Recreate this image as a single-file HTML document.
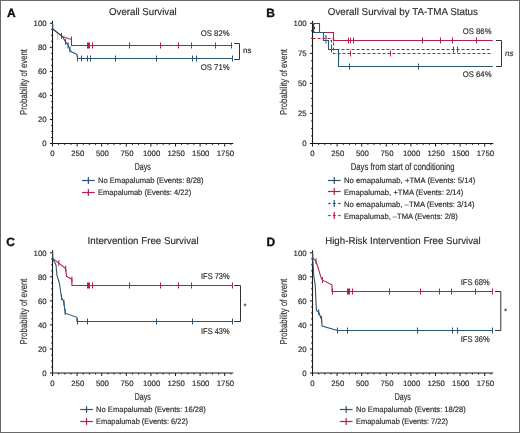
<!DOCTYPE html>
<html><head><meta charset="utf-8"><style>
html,body{margin:0;padding:0;background:#fff;}
body{width:520px;height:433px;overflow:hidden;position:relative;}
.frame{position:absolute;left:0;top:0;width:518px;height:431px;border:1px solid #6a6a6a;}
svg{position:absolute;left:0;top:0;will-change:transform;}
text{font-family:"Liberation Sans",sans-serif;fill:#2e2e2e;text-rendering:geometricPrecision;stroke:#2e2e2e;stroke-width:0.18px;stroke-linejoin:round;}
</style></head><body>
<div class="frame"></div>
<svg width="520" height="433" viewBox="0 0 520 433">
<text x="6.90" y="16.80" font-size="12" font-weight="bold" fill="#111" style="fill:#111;stroke:#111;stroke-width:0.35px">A</text>
<text x="109.10" y="15.00" font-size="10.0" textLength="67.60" lengthAdjust="spacingAndGlyphs">Overall Survival</text>
<line x1="52.50" y1="20.80" x2="52.50" y2="144.00" stroke="#1a1a1a" stroke-width="1.1"/>
<line x1="52.00" y1="143.50" x2="233.30" y2="143.50" stroke="#1a1a1a" stroke-width="1.1"/>
<line x1="49.90" y1="143.50" x2="52.50" y2="143.50" stroke="#1a1a1a" stroke-width="1"/>
<text x="46.60" y="146.30" font-size="7.8" text-anchor="end">0</text>
<line x1="51.00" y1="137.49" x2="52.50" y2="137.49" stroke="#1a1a1a" stroke-width="0.9"/>
<line x1="51.00" y1="131.48" x2="52.50" y2="131.48" stroke="#1a1a1a" stroke-width="0.9"/>
<line x1="51.00" y1="125.47" x2="52.50" y2="125.47" stroke="#1a1a1a" stroke-width="0.9"/>
<line x1="49.90" y1="119.46" x2="52.50" y2="119.46" stroke="#1a1a1a" stroke-width="1"/>
<text x="46.60" y="122.26" font-size="7.8" text-anchor="end">20</text>
<line x1="51.00" y1="113.45" x2="52.50" y2="113.45" stroke="#1a1a1a" stroke-width="0.9"/>
<line x1="51.00" y1="107.44" x2="52.50" y2="107.44" stroke="#1a1a1a" stroke-width="0.9"/>
<line x1="51.00" y1="101.43" x2="52.50" y2="101.43" stroke="#1a1a1a" stroke-width="0.9"/>
<line x1="49.90" y1="95.42" x2="52.50" y2="95.42" stroke="#1a1a1a" stroke-width="1"/>
<text x="46.60" y="98.22" font-size="7.8" text-anchor="end">40</text>
<line x1="51.00" y1="89.41" x2="52.50" y2="89.41" stroke="#1a1a1a" stroke-width="0.9"/>
<line x1="51.00" y1="83.40" x2="52.50" y2="83.40" stroke="#1a1a1a" stroke-width="0.9"/>
<line x1="51.00" y1="77.39" x2="52.50" y2="77.39" stroke="#1a1a1a" stroke-width="0.9"/>
<line x1="49.90" y1="71.38" x2="52.50" y2="71.38" stroke="#1a1a1a" stroke-width="1"/>
<text x="46.60" y="74.18" font-size="7.8" text-anchor="end">60</text>
<line x1="51.00" y1="65.37" x2="52.50" y2="65.37" stroke="#1a1a1a" stroke-width="0.9"/>
<line x1="51.00" y1="59.36" x2="52.50" y2="59.36" stroke="#1a1a1a" stroke-width="0.9"/>
<line x1="51.00" y1="53.35" x2="52.50" y2="53.35" stroke="#1a1a1a" stroke-width="0.9"/>
<line x1="49.90" y1="47.34" x2="52.50" y2="47.34" stroke="#1a1a1a" stroke-width="1"/>
<text x="46.60" y="50.14" font-size="7.8" text-anchor="end">80</text>
<line x1="51.00" y1="41.33" x2="52.50" y2="41.33" stroke="#1a1a1a" stroke-width="0.9"/>
<line x1="51.00" y1="35.32" x2="52.50" y2="35.32" stroke="#1a1a1a" stroke-width="0.9"/>
<line x1="51.00" y1="29.31" x2="52.50" y2="29.31" stroke="#1a1a1a" stroke-width="0.9"/>
<line x1="49.90" y1="23.30" x2="52.50" y2="23.30" stroke="#1a1a1a" stroke-width="1"/>
<text x="46.60" y="26.10" font-size="7.8" text-anchor="end">100</text>
<line x1="52.50" y1="143.50" x2="52.50" y2="146.50" stroke="#1a1a1a" stroke-width="1"/>
<text x="52.50" y="156.40" font-size="7.8" text-anchor="middle">0</text>
<line x1="77.10" y1="143.50" x2="77.10" y2="146.50" stroke="#1a1a1a" stroke-width="1"/>
<text x="77.80" y="156.40" font-size="7.8" text-anchor="middle">250</text>
<line x1="101.70" y1="143.50" x2="101.70" y2="146.50" stroke="#1a1a1a" stroke-width="1"/>
<text x="102.40" y="156.40" font-size="7.8" text-anchor="middle">500</text>
<line x1="126.30" y1="143.50" x2="126.30" y2="146.50" stroke="#1a1a1a" stroke-width="1"/>
<text x="127.00" y="156.40" font-size="7.8" text-anchor="middle">750</text>
<line x1="150.90" y1="143.50" x2="150.90" y2="146.50" stroke="#1a1a1a" stroke-width="1"/>
<text x="151.60" y="156.40" font-size="7.8" text-anchor="middle">1000</text>
<line x1="175.50" y1="143.50" x2="175.50" y2="146.50" stroke="#1a1a1a" stroke-width="1"/>
<text x="176.20" y="156.40" font-size="7.8" text-anchor="middle">1250</text>
<line x1="200.10" y1="143.50" x2="200.10" y2="146.50" stroke="#1a1a1a" stroke-width="1"/>
<text x="200.80" y="156.40" font-size="7.8" text-anchor="middle">1500</text>
<line x1="224.70" y1="143.50" x2="224.70" y2="146.50" stroke="#1a1a1a" stroke-width="1"/>
<text x="225.40" y="156.40" font-size="7.8" text-anchor="middle">1750</text>
<line x1="58.65" y1="143.50" x2="58.65" y2="145.10" stroke="#1a1a1a" stroke-width="0.9"/>
<line x1="64.80" y1="143.50" x2="64.80" y2="145.10" stroke="#1a1a1a" stroke-width="0.9"/>
<line x1="70.95" y1="143.50" x2="70.95" y2="145.10" stroke="#1a1a1a" stroke-width="0.9"/>
<line x1="83.25" y1="143.50" x2="83.25" y2="145.10" stroke="#1a1a1a" stroke-width="0.9"/>
<line x1="89.40" y1="143.50" x2="89.40" y2="145.10" stroke="#1a1a1a" stroke-width="0.9"/>
<line x1="95.55" y1="143.50" x2="95.55" y2="145.10" stroke="#1a1a1a" stroke-width="0.9"/>
<line x1="107.85" y1="143.50" x2="107.85" y2="145.10" stroke="#1a1a1a" stroke-width="0.9"/>
<line x1="114.00" y1="143.50" x2="114.00" y2="145.10" stroke="#1a1a1a" stroke-width="0.9"/>
<line x1="120.15" y1="143.50" x2="120.15" y2="145.10" stroke="#1a1a1a" stroke-width="0.9"/>
<line x1="132.45" y1="143.50" x2="132.45" y2="145.10" stroke="#1a1a1a" stroke-width="0.9"/>
<line x1="138.60" y1="143.50" x2="138.60" y2="145.10" stroke="#1a1a1a" stroke-width="0.9"/>
<line x1="144.75" y1="143.50" x2="144.75" y2="145.10" stroke="#1a1a1a" stroke-width="0.9"/>
<line x1="157.05" y1="143.50" x2="157.05" y2="145.10" stroke="#1a1a1a" stroke-width="0.9"/>
<line x1="163.20" y1="143.50" x2="163.20" y2="145.10" stroke="#1a1a1a" stroke-width="0.9"/>
<line x1="169.35" y1="143.50" x2="169.35" y2="145.10" stroke="#1a1a1a" stroke-width="0.9"/>
<line x1="181.65" y1="143.50" x2="181.65" y2="145.10" stroke="#1a1a1a" stroke-width="0.9"/>
<line x1="187.80" y1="143.50" x2="187.80" y2="145.10" stroke="#1a1a1a" stroke-width="0.9"/>
<line x1="193.95" y1="143.50" x2="193.95" y2="145.10" stroke="#1a1a1a" stroke-width="0.9"/>
<line x1="206.25" y1="143.50" x2="206.25" y2="145.10" stroke="#1a1a1a" stroke-width="0.9"/>
<line x1="212.40" y1="143.50" x2="212.40" y2="145.10" stroke="#1a1a1a" stroke-width="0.9"/>
<line x1="218.55" y1="143.50" x2="218.55" y2="145.10" stroke="#1a1a1a" stroke-width="0.9"/>
<line x1="230.85" y1="143.50" x2="230.85" y2="145.10" stroke="#1a1a1a" stroke-width="0.9"/>
<text x="0" y="0" font-size="10" textLength="66.0" lengthAdjust="spacingAndGlyphs" text-anchor="middle" transform="translate(27.30,82.00) rotate(-90)">Probability of event</text>
<text x="134.80" y="170.00" font-size="10" textLength="16.00" lengthAdjust="spacingAndGlyphs">Days</text>
<polyline points="52.50,23.50 52.70,29.00 62.50,36.60 71.50,39.60 71.50,45.50 232.30,45.50" fill="none" stroke="#b22248" stroke-width="1.1" stroke-linejoin="miter"/>
<polyline points="52.50,23.50 52.70,29.00 62.50,36.60 65.60,41.90 68.10,45.00 70.00,50.60 71.90,51.90 76.90,54.40 77.60,58.50 232.30,58.50" fill="none" stroke="#2b5573" stroke-width="1.1" stroke-linejoin="miter"/>
<line x1="87.50" y1="42.50" x2="87.50" y2="48.50" stroke="#b22248" stroke-width="1"/>
<line x1="88.50" y1="42.50" x2="88.50" y2="48.50" stroke="#b22248" stroke-width="1"/>
<line x1="89.50" y1="42.50" x2="89.50" y2="48.50" stroke="#b22248" stroke-width="1"/>
<line x1="92.50" y1="42.50" x2="92.50" y2="48.50" stroke="#b22248" stroke-width="1"/>
<line x1="129.50" y1="42.50" x2="129.50" y2="48.50" stroke="#b22248" stroke-width="1"/>
<line x1="160.50" y1="42.50" x2="160.50" y2="48.50" stroke="#b22248" stroke-width="1"/>
<line x1="178.50" y1="42.50" x2="178.50" y2="48.50" stroke="#b22248" stroke-width="1"/>
<line x1="191.50" y1="42.50" x2="191.50" y2="48.50" stroke="#b22248" stroke-width="1"/>
<line x1="215.50" y1="42.50" x2="215.50" y2="48.50" stroke="#b22248" stroke-width="1"/>
<line x1="231.50" y1="42.50" x2="231.50" y2="48.50" stroke="#b22248" stroke-width="1"/>
<line x1="77.50" y1="55.50" x2="77.50" y2="61.50" stroke="#2b5573" stroke-width="1"/>
<line x1="81.50" y1="55.50" x2="81.50" y2="61.50" stroke="#2b5573" stroke-width="1"/>
<line x1="87.50" y1="55.50" x2="87.50" y2="61.50" stroke="#2b5573" stroke-width="1"/>
<line x1="90.50" y1="55.50" x2="90.50" y2="61.50" stroke="#2b5573" stroke-width="1"/>
<line x1="115.50" y1="55.50" x2="115.50" y2="61.50" stroke="#2b5573" stroke-width="1"/>
<line x1="156.50" y1="55.50" x2="156.50" y2="61.50" stroke="#2b5573" stroke-width="1"/>
<line x1="192.50" y1="55.50" x2="192.50" y2="61.50" stroke="#2b5573" stroke-width="1"/>
<line x1="196.50" y1="55.50" x2="196.50" y2="61.50" stroke="#2b5573" stroke-width="1"/>
<line x1="232.50" y1="55.50" x2="232.50" y2="61.50" stroke="#2b5573" stroke-width="1"/>
<line x1="57.60" y1="33.80" x2="57.60" y2="39.80" stroke="#b22248" stroke-width="1" opacity="0.35"/>
<line x1="71.50" y1="36.50" x2="71.50" y2="42.50" stroke="#b22248" stroke-width="1"/>
<line x1="61.50" y1="32.80" x2="61.50" y2="38.80" stroke="#2b5573" stroke-width="1"/>
<line x1="65.60" y1="38.90" x2="65.60" y2="44.90" stroke="#2b5573" stroke-width="1"/>
<line x1="68.10" y1="42.20" x2="68.10" y2="48.20" stroke="#2b5573" stroke-width="1"/>
<line x1="70.00" y1="46.50" x2="70.00" y2="52.50" stroke="#2b5573" stroke-width="1"/>
<text x="200.80" y="36.00" font-size="8.2" textLength="28.80" lengthAdjust="spacingAndGlyphs">OS 82%</text>
<text x="200.80" y="70.20" font-size="8.2" textLength="28.80" lengthAdjust="spacingAndGlyphs">OS 71%</text>
<polyline points="234.20,43.50 239.50,43.50 239.50,59.50 234.20,59.50" fill="none" stroke="#333" stroke-width="1"/>
<text x="243.00" y="53.30" font-size="8">ns</text>
<line x1="82.00" y1="180.50" x2="94.70" y2="180.50" stroke="#2b5573" stroke-width="1.2"/>
<line x1="88.35" y1="177.10" x2="88.35" y2="183.90" stroke="#2b5573" stroke-width="1.2"/>
<text x="98.00" y="182.90" font-size="7.8" textLength="105.60" lengthAdjust="spacingAndGlyphs">No Emapalumab (Events: 8/28)</text>
<line x1="82.00" y1="192.50" x2="94.70" y2="192.50" stroke="#b22248" stroke-width="1.2"/>
<line x1="88.35" y1="189.10" x2="88.35" y2="195.90" stroke="#b22248" stroke-width="1.2"/>
<text x="98.00" y="194.60" font-size="7.8" textLength="93.20" lengthAdjust="spacingAndGlyphs">Emapalumab (Events: 4/22)</text>
<text x="266.30" y="16.70" font-size="12" font-weight="bold" fill="#111" style="fill:#111;stroke:#111;stroke-width:0.35px">B</text>
<text x="327.80" y="15.00" font-size="10.0" textLength="150.20" lengthAdjust="spacingAndGlyphs">Overall Survival by TA-TMA Status</text>
<line x1="312.50" y1="20.80" x2="312.50" y2="144.00" stroke="#1a1a1a" stroke-width="1.1"/>
<line x1="312.00" y1="143.50" x2="493.30" y2="143.50" stroke="#1a1a1a" stroke-width="1.1"/>
<line x1="309.90" y1="143.50" x2="312.50" y2="143.50" stroke="#1a1a1a" stroke-width="1"/>
<text x="306.60" y="146.30" font-size="7.8" text-anchor="end">0</text>
<line x1="311.00" y1="135.99" x2="312.50" y2="135.99" stroke="#1a1a1a" stroke-width="0.9"/>
<line x1="311.00" y1="128.47" x2="312.50" y2="128.47" stroke="#1a1a1a" stroke-width="0.9"/>
<line x1="311.00" y1="120.96" x2="312.50" y2="120.96" stroke="#1a1a1a" stroke-width="0.9"/>
<line x1="309.90" y1="113.45" x2="312.50" y2="113.45" stroke="#1a1a1a" stroke-width="1"/>
<text x="306.60" y="116.25" font-size="7.8" text-anchor="end">25</text>
<line x1="311.00" y1="105.94" x2="312.50" y2="105.94" stroke="#1a1a1a" stroke-width="0.9"/>
<line x1="311.00" y1="98.43" x2="312.50" y2="98.43" stroke="#1a1a1a" stroke-width="0.9"/>
<line x1="311.00" y1="90.91" x2="312.50" y2="90.91" stroke="#1a1a1a" stroke-width="0.9"/>
<line x1="309.90" y1="83.40" x2="312.50" y2="83.40" stroke="#1a1a1a" stroke-width="1"/>
<text x="306.60" y="86.20" font-size="7.8" text-anchor="end">50</text>
<line x1="311.00" y1="75.89" x2="312.50" y2="75.89" stroke="#1a1a1a" stroke-width="0.9"/>
<line x1="311.00" y1="68.38" x2="312.50" y2="68.38" stroke="#1a1a1a" stroke-width="0.9"/>
<line x1="311.00" y1="60.86" x2="312.50" y2="60.86" stroke="#1a1a1a" stroke-width="0.9"/>
<line x1="309.90" y1="53.35" x2="312.50" y2="53.35" stroke="#1a1a1a" stroke-width="1"/>
<text x="306.60" y="56.15" font-size="7.8" text-anchor="end">75</text>
<line x1="311.00" y1="45.84" x2="312.50" y2="45.84" stroke="#1a1a1a" stroke-width="0.9"/>
<line x1="311.00" y1="38.33" x2="312.50" y2="38.33" stroke="#1a1a1a" stroke-width="0.9"/>
<line x1="311.00" y1="30.81" x2="312.50" y2="30.81" stroke="#1a1a1a" stroke-width="0.9"/>
<line x1="309.90" y1="23.30" x2="312.50" y2="23.30" stroke="#1a1a1a" stroke-width="1"/>
<text x="306.60" y="26.10" font-size="7.8" text-anchor="end">100</text>
<line x1="312.50" y1="143.50" x2="312.50" y2="146.50" stroke="#1a1a1a" stroke-width="1"/>
<text x="312.50" y="156.40" font-size="7.8" text-anchor="middle">0</text>
<line x1="337.10" y1="143.50" x2="337.10" y2="146.50" stroke="#1a1a1a" stroke-width="1"/>
<text x="337.80" y="156.40" font-size="7.8" text-anchor="middle">250</text>
<line x1="361.70" y1="143.50" x2="361.70" y2="146.50" stroke="#1a1a1a" stroke-width="1"/>
<text x="362.40" y="156.40" font-size="7.8" text-anchor="middle">500</text>
<line x1="386.30" y1="143.50" x2="386.30" y2="146.50" stroke="#1a1a1a" stroke-width="1"/>
<text x="387.00" y="156.40" font-size="7.8" text-anchor="middle">750</text>
<line x1="410.90" y1="143.50" x2="410.90" y2="146.50" stroke="#1a1a1a" stroke-width="1"/>
<text x="411.60" y="156.40" font-size="7.8" text-anchor="middle">1000</text>
<line x1="435.50" y1="143.50" x2="435.50" y2="146.50" stroke="#1a1a1a" stroke-width="1"/>
<text x="436.20" y="156.40" font-size="7.8" text-anchor="middle">1250</text>
<line x1="460.10" y1="143.50" x2="460.10" y2="146.50" stroke="#1a1a1a" stroke-width="1"/>
<text x="460.80" y="156.40" font-size="7.8" text-anchor="middle">1500</text>
<line x1="484.70" y1="143.50" x2="484.70" y2="146.50" stroke="#1a1a1a" stroke-width="1"/>
<text x="485.40" y="156.40" font-size="7.8" text-anchor="middle">1750</text>
<line x1="318.65" y1="143.50" x2="318.65" y2="145.10" stroke="#1a1a1a" stroke-width="0.9"/>
<line x1="324.80" y1="143.50" x2="324.80" y2="145.10" stroke="#1a1a1a" stroke-width="0.9"/>
<line x1="330.95" y1="143.50" x2="330.95" y2="145.10" stroke="#1a1a1a" stroke-width="0.9"/>
<line x1="343.25" y1="143.50" x2="343.25" y2="145.10" stroke="#1a1a1a" stroke-width="0.9"/>
<line x1="349.40" y1="143.50" x2="349.40" y2="145.10" stroke="#1a1a1a" stroke-width="0.9"/>
<line x1="355.55" y1="143.50" x2="355.55" y2="145.10" stroke="#1a1a1a" stroke-width="0.9"/>
<line x1="367.85" y1="143.50" x2="367.85" y2="145.10" stroke="#1a1a1a" stroke-width="0.9"/>
<line x1="374.00" y1="143.50" x2="374.00" y2="145.10" stroke="#1a1a1a" stroke-width="0.9"/>
<line x1="380.15" y1="143.50" x2="380.15" y2="145.10" stroke="#1a1a1a" stroke-width="0.9"/>
<line x1="392.45" y1="143.50" x2="392.45" y2="145.10" stroke="#1a1a1a" stroke-width="0.9"/>
<line x1="398.60" y1="143.50" x2="398.60" y2="145.10" stroke="#1a1a1a" stroke-width="0.9"/>
<line x1="404.75" y1="143.50" x2="404.75" y2="145.10" stroke="#1a1a1a" stroke-width="0.9"/>
<line x1="417.05" y1="143.50" x2="417.05" y2="145.10" stroke="#1a1a1a" stroke-width="0.9"/>
<line x1="423.20" y1="143.50" x2="423.20" y2="145.10" stroke="#1a1a1a" stroke-width="0.9"/>
<line x1="429.35" y1="143.50" x2="429.35" y2="145.10" stroke="#1a1a1a" stroke-width="0.9"/>
<line x1="441.65" y1="143.50" x2="441.65" y2="145.10" stroke="#1a1a1a" stroke-width="0.9"/>
<line x1="447.80" y1="143.50" x2="447.80" y2="145.10" stroke="#1a1a1a" stroke-width="0.9"/>
<line x1="453.95" y1="143.50" x2="453.95" y2="145.10" stroke="#1a1a1a" stroke-width="0.9"/>
<line x1="466.25" y1="143.50" x2="466.25" y2="145.10" stroke="#1a1a1a" stroke-width="0.9"/>
<line x1="472.40" y1="143.50" x2="472.40" y2="145.10" stroke="#1a1a1a" stroke-width="0.9"/>
<line x1="478.55" y1="143.50" x2="478.55" y2="145.10" stroke="#1a1a1a" stroke-width="0.9"/>
<line x1="490.85" y1="143.50" x2="490.85" y2="145.10" stroke="#1a1a1a" stroke-width="0.9"/>
<text x="0" y="0" font-size="10" textLength="66.0" lengthAdjust="spacingAndGlyphs" text-anchor="middle" transform="translate(287.30,82.00) rotate(-90)">Probability of event</text>
<text x="350.80" y="169.60" font-size="10" textLength="103.80" lengthAdjust="spacingAndGlyphs">Days from start of conditioning</text>
<polyline points="312.50,23.50 319.50,23.50 319.50,32.50 333.50,32.50 333.50,40.50 492.80,40.50" fill="none" stroke="#b22248" stroke-width="1.1" stroke-linejoin="miter"/>
<polyline points="312.50,23.50 313.50,23.50 313.50,32.50 323.50,32.50 323.50,40.50 328.50,40.50 328.50,49.50 338.50,49.50 338.50,66.50 492.80,66.50" fill="none" stroke="#2b5573" stroke-width="1.1" stroke-linejoin="miter"/>
<polyline points="312.50,23.50 314.50,23.50 314.50,32.50 326.00,32.50 326.00,40.50 331.50,40.50 331.50,49.50 489.50,49.50" fill="none" stroke="#2b5573" stroke-width="1.1" stroke-linejoin="miter" stroke-dasharray="3,2"/>
<polyline points="312.50,38.50 333.50,38.50 333.50,53.50 492.80,53.50" fill="none" stroke="#b22248" stroke-width="1.1" stroke-linejoin="miter" stroke-dasharray="3,2"/>
<line x1="348.50" y1="37.50" x2="348.50" y2="43.50" stroke="#b22248" stroke-width="1"/>
<line x1="350.50" y1="37.50" x2="350.50" y2="43.50" stroke="#b22248" stroke-width="1"/>
<line x1="353.50" y1="37.50" x2="353.50" y2="43.50" stroke="#b22248" stroke-width="1"/>
<line x1="422.50" y1="37.50" x2="422.50" y2="43.50" stroke="#b22248" stroke-width="1"/>
<line x1="440.50" y1="37.50" x2="440.50" y2="43.50" stroke="#b22248" stroke-width="1"/>
<line x1="452.50" y1="37.50" x2="452.50" y2="43.50" stroke="#b22248" stroke-width="1"/>
<line x1="476.50" y1="37.50" x2="476.50" y2="43.50" stroke="#b22248" stroke-width="1"/>
<line x1="349.50" y1="63.50" x2="349.50" y2="69.50" stroke="#2b5573" stroke-width="1"/>
<line x1="418.50" y1="63.50" x2="418.50" y2="69.50" stroke="#2b5573" stroke-width="1"/>
<line x1="453.50" y1="46.50" x2="453.50" y2="52.50" stroke="#2b5573" stroke-width="1"/>
<line x1="457.50" y1="46.50" x2="457.50" y2="52.50" stroke="#2b5573" stroke-width="1"/>
<line x1="350.50" y1="50.50" x2="350.50" y2="56.50" stroke="#b22248" stroke-width="1"/>
<line x1="390.50" y1="50.50" x2="390.50" y2="56.50" stroke="#b22248" stroke-width="1"/>
<line x1="333.50" y1="35.50" x2="333.50" y2="41.50" stroke="#2b5573" stroke-width="1"/>
<line x1="326.00" y1="37.50" x2="326.00" y2="43.50" stroke="#2b5573" stroke-width="1"/>
<line x1="331.50" y1="46.50" x2="331.50" y2="52.50" stroke="#2b5573" stroke-width="1"/>
<line x1="338.70" y1="53.00" x2="338.70" y2="59.00" stroke="#2b5573" stroke-width="1"/>
<text x="462.80" y="33.50" font-size="8.2" textLength="28.70" lengthAdjust="spacingAndGlyphs">OS 86%</text>
<text x="462.80" y="76.60" font-size="8.2" textLength="28.70" lengthAdjust="spacingAndGlyphs">OS 64%</text>
<polyline points="496.00,40.50 501.50,40.50 501.50,66.50 496.00,66.50" fill="none" stroke="#333" stroke-width="1"/>
<text x="505.00" y="55.70" font-size="8" font-style="italic">ns</text>
<line x1="327.90" y1="180.50" x2="340.60" y2="180.50" stroke="#2b5573" stroke-width="1.2"/>
<line x1="334.25" y1="177.10" x2="334.25" y2="183.90" stroke="#2b5573" stroke-width="1.2"/>
<text x="344.00" y="183.00" font-size="7.8" textLength="131.40" lengthAdjust="spacingAndGlyphs">No emapalumab, +TMA (Events: 5/14)</text>
<line x1="327.90" y1="191.50" x2="340.60" y2="191.50" stroke="#b22248" stroke-width="1.2"/>
<line x1="334.25" y1="188.10" x2="334.25" y2="194.90" stroke="#b22248" stroke-width="1.2"/>
<text x="344.00" y="194.80" font-size="7.8" textLength="119.40" lengthAdjust="spacingAndGlyphs">Emapalumab, +TMA (Events: 2/14)</text>
<line x1="328.20" y1="203.50" x2="330.60" y2="203.50" stroke="#2b5573" stroke-width="1.2"/>
<line x1="332.85" y1="203.50" x2="335.65" y2="203.50" stroke="#2b5573" stroke-width="1.2"/>
<line x1="338.20" y1="203.50" x2="340.60" y2="203.50" stroke="#2b5573" stroke-width="1.2"/>
<line x1="334.25" y1="200.10" x2="334.25" y2="206.90" stroke="#2b5573" stroke-width="1.2"/>
<text x="344.00" y="206.80" font-size="7.8" textLength="130.60" lengthAdjust="spacingAndGlyphs">No emapalumab, –TMA (Events: 3/14)</text>
<line x1="328.20" y1="215.50" x2="330.60" y2="215.50" stroke="#b22248" stroke-width="1.2"/>
<line x1="332.85" y1="215.50" x2="335.65" y2="215.50" stroke="#b22248" stroke-width="1.2"/>
<line x1="338.20" y1="215.50" x2="340.60" y2="215.50" stroke="#b22248" stroke-width="1.2"/>
<line x1="334.25" y1="212.10" x2="334.25" y2="218.90" stroke="#b22248" stroke-width="1.2"/>
<text x="344.00" y="218.70" font-size="7.8" textLength="113.70" lengthAdjust="spacingAndGlyphs">Emapalumab, –TMA (Events: 2/8)</text>
<text x="6.20" y="245.80" font-size="12" font-weight="bold" fill="#111" style="fill:#111;stroke:#111;stroke-width:0.35px">C</text>
<text x="87.60" y="244.20" font-size="10.0" textLength="111.00" lengthAdjust="spacingAndGlyphs">Intervention Free Survival</text>
<line x1="52.50" y1="250.30" x2="52.50" y2="373.50" stroke="#1a1a1a" stroke-width="1.1"/>
<line x1="52.00" y1="373.00" x2="233.30" y2="373.00" stroke="#1a1a1a" stroke-width="1.1"/>
<line x1="49.90" y1="373.00" x2="52.50" y2="373.00" stroke="#1a1a1a" stroke-width="1"/>
<text x="46.60" y="375.80" font-size="7.8" text-anchor="end">0</text>
<line x1="51.00" y1="366.99" x2="52.50" y2="366.99" stroke="#1a1a1a" stroke-width="0.9"/>
<line x1="51.00" y1="360.98" x2="52.50" y2="360.98" stroke="#1a1a1a" stroke-width="0.9"/>
<line x1="51.00" y1="354.97" x2="52.50" y2="354.97" stroke="#1a1a1a" stroke-width="0.9"/>
<line x1="49.90" y1="348.96" x2="52.50" y2="348.96" stroke="#1a1a1a" stroke-width="1"/>
<text x="46.60" y="351.76" font-size="7.8" text-anchor="end">20</text>
<line x1="51.00" y1="342.95" x2="52.50" y2="342.95" stroke="#1a1a1a" stroke-width="0.9"/>
<line x1="51.00" y1="336.94" x2="52.50" y2="336.94" stroke="#1a1a1a" stroke-width="0.9"/>
<line x1="51.00" y1="330.93" x2="52.50" y2="330.93" stroke="#1a1a1a" stroke-width="0.9"/>
<line x1="49.90" y1="324.92" x2="52.50" y2="324.92" stroke="#1a1a1a" stroke-width="1"/>
<text x="46.60" y="327.72" font-size="7.8" text-anchor="end">40</text>
<line x1="51.00" y1="318.91" x2="52.50" y2="318.91" stroke="#1a1a1a" stroke-width="0.9"/>
<line x1="51.00" y1="312.90" x2="52.50" y2="312.90" stroke="#1a1a1a" stroke-width="0.9"/>
<line x1="51.00" y1="306.89" x2="52.50" y2="306.89" stroke="#1a1a1a" stroke-width="0.9"/>
<line x1="49.90" y1="300.88" x2="52.50" y2="300.88" stroke="#1a1a1a" stroke-width="1"/>
<text x="46.60" y="303.68" font-size="7.8" text-anchor="end">60</text>
<line x1="51.00" y1="294.87" x2="52.50" y2="294.87" stroke="#1a1a1a" stroke-width="0.9"/>
<line x1="51.00" y1="288.86" x2="52.50" y2="288.86" stroke="#1a1a1a" stroke-width="0.9"/>
<line x1="51.00" y1="282.85" x2="52.50" y2="282.85" stroke="#1a1a1a" stroke-width="0.9"/>
<line x1="49.90" y1="276.84" x2="52.50" y2="276.84" stroke="#1a1a1a" stroke-width="1"/>
<text x="46.60" y="279.64" font-size="7.8" text-anchor="end">80</text>
<line x1="51.00" y1="270.83" x2="52.50" y2="270.83" stroke="#1a1a1a" stroke-width="0.9"/>
<line x1="51.00" y1="264.82" x2="52.50" y2="264.82" stroke="#1a1a1a" stroke-width="0.9"/>
<line x1="51.00" y1="258.81" x2="52.50" y2="258.81" stroke="#1a1a1a" stroke-width="0.9"/>
<line x1="49.90" y1="252.80" x2="52.50" y2="252.80" stroke="#1a1a1a" stroke-width="1"/>
<text x="46.60" y="255.60" font-size="7.8" text-anchor="end">100</text>
<line x1="52.50" y1="373.00" x2="52.50" y2="376.00" stroke="#1a1a1a" stroke-width="1"/>
<text x="52.50" y="385.90" font-size="7.8" text-anchor="middle">0</text>
<line x1="77.10" y1="373.00" x2="77.10" y2="376.00" stroke="#1a1a1a" stroke-width="1"/>
<text x="77.80" y="385.90" font-size="7.8" text-anchor="middle">250</text>
<line x1="101.70" y1="373.00" x2="101.70" y2="376.00" stroke="#1a1a1a" stroke-width="1"/>
<text x="102.40" y="385.90" font-size="7.8" text-anchor="middle">500</text>
<line x1="126.30" y1="373.00" x2="126.30" y2="376.00" stroke="#1a1a1a" stroke-width="1"/>
<text x="127.00" y="385.90" font-size="7.8" text-anchor="middle">750</text>
<line x1="150.90" y1="373.00" x2="150.90" y2="376.00" stroke="#1a1a1a" stroke-width="1"/>
<text x="151.60" y="385.90" font-size="7.8" text-anchor="middle">1000</text>
<line x1="175.50" y1="373.00" x2="175.50" y2="376.00" stroke="#1a1a1a" stroke-width="1"/>
<text x="176.20" y="385.90" font-size="7.8" text-anchor="middle">1250</text>
<line x1="200.10" y1="373.00" x2="200.10" y2="376.00" stroke="#1a1a1a" stroke-width="1"/>
<text x="200.80" y="385.90" font-size="7.8" text-anchor="middle">1500</text>
<line x1="224.70" y1="373.00" x2="224.70" y2="376.00" stroke="#1a1a1a" stroke-width="1"/>
<text x="225.40" y="385.90" font-size="7.8" text-anchor="middle">1750</text>
<line x1="58.65" y1="373.00" x2="58.65" y2="374.60" stroke="#1a1a1a" stroke-width="0.9"/>
<line x1="64.80" y1="373.00" x2="64.80" y2="374.60" stroke="#1a1a1a" stroke-width="0.9"/>
<line x1="70.95" y1="373.00" x2="70.95" y2="374.60" stroke="#1a1a1a" stroke-width="0.9"/>
<line x1="83.25" y1="373.00" x2="83.25" y2="374.60" stroke="#1a1a1a" stroke-width="0.9"/>
<line x1="89.40" y1="373.00" x2="89.40" y2="374.60" stroke="#1a1a1a" stroke-width="0.9"/>
<line x1="95.55" y1="373.00" x2="95.55" y2="374.60" stroke="#1a1a1a" stroke-width="0.9"/>
<line x1="107.85" y1="373.00" x2="107.85" y2="374.60" stroke="#1a1a1a" stroke-width="0.9"/>
<line x1="114.00" y1="373.00" x2="114.00" y2="374.60" stroke="#1a1a1a" stroke-width="0.9"/>
<line x1="120.15" y1="373.00" x2="120.15" y2="374.60" stroke="#1a1a1a" stroke-width="0.9"/>
<line x1="132.45" y1="373.00" x2="132.45" y2="374.60" stroke="#1a1a1a" stroke-width="0.9"/>
<line x1="138.60" y1="373.00" x2="138.60" y2="374.60" stroke="#1a1a1a" stroke-width="0.9"/>
<line x1="144.75" y1="373.00" x2="144.75" y2="374.60" stroke="#1a1a1a" stroke-width="0.9"/>
<line x1="157.05" y1="373.00" x2="157.05" y2="374.60" stroke="#1a1a1a" stroke-width="0.9"/>
<line x1="163.20" y1="373.00" x2="163.20" y2="374.60" stroke="#1a1a1a" stroke-width="0.9"/>
<line x1="169.35" y1="373.00" x2="169.35" y2="374.60" stroke="#1a1a1a" stroke-width="0.9"/>
<line x1="181.65" y1="373.00" x2="181.65" y2="374.60" stroke="#1a1a1a" stroke-width="0.9"/>
<line x1="187.80" y1="373.00" x2="187.80" y2="374.60" stroke="#1a1a1a" stroke-width="0.9"/>
<line x1="193.95" y1="373.00" x2="193.95" y2="374.60" stroke="#1a1a1a" stroke-width="0.9"/>
<line x1="206.25" y1="373.00" x2="206.25" y2="374.60" stroke="#1a1a1a" stroke-width="0.9"/>
<line x1="212.40" y1="373.00" x2="212.40" y2="374.60" stroke="#1a1a1a" stroke-width="0.9"/>
<line x1="218.55" y1="373.00" x2="218.55" y2="374.60" stroke="#1a1a1a" stroke-width="0.9"/>
<line x1="230.85" y1="373.00" x2="230.85" y2="374.60" stroke="#1a1a1a" stroke-width="0.9"/>
<text x="0" y="0" font-size="10" textLength="66.0" lengthAdjust="spacingAndGlyphs" text-anchor="middle" transform="translate(27.30,311.50) rotate(-90)">Probability of event</text>
<text x="134.80" y="399.50" font-size="10" textLength="16.00" lengthAdjust="spacingAndGlyphs">Days</text>
<polyline points="52.60,252.60 52.70,258.50 58.80,263.10 65.70,268.60 66.60,276.50 71.90,279.20 71.90,285.50 232.30,285.50" fill="none" stroke="#b22248" stroke-width="1.1" stroke-linejoin="miter"/>
<polyline points="52.60,252.60 52.70,258.50 56.00,264.90 56.90,275.10 59.20,282.50 59.70,285.00 61.50,297.50 63.90,302.10 65.20,313.20 76.80,317.30 77.00,321.50 232.30,321.50" fill="none" stroke="#2b5573" stroke-width="1.1" stroke-linejoin="miter"/>
<line x1="87.50" y1="282.50" x2="87.50" y2="288.50" stroke="#b22248" stroke-width="1"/>
<line x1="88.50" y1="282.50" x2="88.50" y2="288.50" stroke="#b22248" stroke-width="1"/>
<line x1="89.50" y1="282.50" x2="89.50" y2="288.50" stroke="#b22248" stroke-width="1"/>
<line x1="92.50" y1="282.50" x2="92.50" y2="288.50" stroke="#b22248" stroke-width="1"/>
<line x1="129.50" y1="282.50" x2="129.50" y2="288.50" stroke="#b22248" stroke-width="1"/>
<line x1="160.50" y1="282.50" x2="160.50" y2="288.50" stroke="#b22248" stroke-width="1"/>
<line x1="178.50" y1="282.50" x2="178.50" y2="288.50" stroke="#b22248" stroke-width="1"/>
<line x1="191.50" y1="282.50" x2="191.50" y2="288.50" stroke="#b22248" stroke-width="1"/>
<line x1="232.50" y1="282.50" x2="232.50" y2="288.50" stroke="#b22248" stroke-width="1"/>
<line x1="77.50" y1="318.50" x2="77.50" y2="324.50" stroke="#2b5573" stroke-width="1"/>
<line x1="87.50" y1="318.50" x2="87.50" y2="324.50" stroke="#2b5573" stroke-width="1"/>
<line x1="156.50" y1="318.50" x2="156.50" y2="324.50" stroke="#2b5573" stroke-width="1"/>
<line x1="192.50" y1="318.50" x2="192.50" y2="324.50" stroke="#2b5573" stroke-width="1"/>
<line x1="232.50" y1="318.50" x2="232.50" y2="324.50" stroke="#2b5573" stroke-width="1"/>
<line x1="58.80" y1="260.10" x2="58.80" y2="266.10" stroke="#b22248" stroke-width="1"/>
<line x1="65.70" y1="265.60" x2="65.70" y2="271.60" stroke="#b22248" stroke-width="1"/>
<line x1="71.90" y1="276.50" x2="71.90" y2="282.50" stroke="#b22248" stroke-width="1"/>
<line x1="61.50" y1="294.00" x2="61.50" y2="300.00" stroke="#2b5573" stroke-width="1"/>
<line x1="63.90" y1="299.50" x2="63.90" y2="305.50" stroke="#2b5573" stroke-width="1"/>
<line x1="65.20" y1="309.00" x2="65.20" y2="315.00" stroke="#2b5573" stroke-width="1"/>
<text x="201.00" y="279.40" font-size="8.4" textLength="28.60" lengthAdjust="spacingAndGlyphs">IFS 73%</text>
<text x="201.00" y="333.70" font-size="8.4" textLength="28.60" lengthAdjust="spacingAndGlyphs">IFS 43%</text>
<polyline points="234.20,285.50 240.50,285.50 240.50,321.50 234.20,321.50" fill="none" stroke="#333" stroke-width="1"/>
<text x="243.60" y="308.60" font-size="8">*</text>
<line x1="80.20" y1="409.50" x2="92.90" y2="409.50" stroke="#2b5573" stroke-width="1.2"/>
<line x1="86.55" y1="406.10" x2="86.55" y2="412.90" stroke="#2b5573" stroke-width="1.2"/>
<text x="96.10" y="412.00" font-size="7.8" textLength="109.70" lengthAdjust="spacingAndGlyphs">No Emapalumab (Events: 16/28)</text>
<line x1="80.20" y1="421.50" x2="92.90" y2="421.50" stroke="#b22248" stroke-width="1.2"/>
<line x1="86.55" y1="418.10" x2="86.55" y2="424.90" stroke="#b22248" stroke-width="1.2"/>
<text x="96.10" y="423.80" font-size="7.8" textLength="91.90" lengthAdjust="spacingAndGlyphs">Emapalumab (Events: 6/22)</text>
<text x="266.50" y="245.80" font-size="12" font-weight="bold" fill="#111" style="fill:#111;stroke:#111;stroke-width:0.35px">D</text>
<text x="325.20" y="244.30" font-size="10.0" textLength="155.40" lengthAdjust="spacingAndGlyphs">High-Risk Intervention Free Survival</text>
<line x1="312.50" y1="250.30" x2="312.50" y2="373.50" stroke="#1a1a1a" stroke-width="1.1"/>
<line x1="312.00" y1="373.00" x2="493.30" y2="373.00" stroke="#1a1a1a" stroke-width="1.1"/>
<line x1="309.90" y1="373.00" x2="312.50" y2="373.00" stroke="#1a1a1a" stroke-width="1"/>
<text x="306.60" y="375.80" font-size="7.8" text-anchor="end">0</text>
<line x1="311.00" y1="366.99" x2="312.50" y2="366.99" stroke="#1a1a1a" stroke-width="0.9"/>
<line x1="311.00" y1="360.98" x2="312.50" y2="360.98" stroke="#1a1a1a" stroke-width="0.9"/>
<line x1="311.00" y1="354.97" x2="312.50" y2="354.97" stroke="#1a1a1a" stroke-width="0.9"/>
<line x1="309.90" y1="348.96" x2="312.50" y2="348.96" stroke="#1a1a1a" stroke-width="1"/>
<text x="306.60" y="351.76" font-size="7.8" text-anchor="end">20</text>
<line x1="311.00" y1="342.95" x2="312.50" y2="342.95" stroke="#1a1a1a" stroke-width="0.9"/>
<line x1="311.00" y1="336.94" x2="312.50" y2="336.94" stroke="#1a1a1a" stroke-width="0.9"/>
<line x1="311.00" y1="330.93" x2="312.50" y2="330.93" stroke="#1a1a1a" stroke-width="0.9"/>
<line x1="309.90" y1="324.92" x2="312.50" y2="324.92" stroke="#1a1a1a" stroke-width="1"/>
<text x="306.60" y="327.72" font-size="7.8" text-anchor="end">40</text>
<line x1="311.00" y1="318.91" x2="312.50" y2="318.91" stroke="#1a1a1a" stroke-width="0.9"/>
<line x1="311.00" y1="312.90" x2="312.50" y2="312.90" stroke="#1a1a1a" stroke-width="0.9"/>
<line x1="311.00" y1="306.89" x2="312.50" y2="306.89" stroke="#1a1a1a" stroke-width="0.9"/>
<line x1="309.90" y1="300.88" x2="312.50" y2="300.88" stroke="#1a1a1a" stroke-width="1"/>
<text x="306.60" y="303.68" font-size="7.8" text-anchor="end">60</text>
<line x1="311.00" y1="294.87" x2="312.50" y2="294.87" stroke="#1a1a1a" stroke-width="0.9"/>
<line x1="311.00" y1="288.86" x2="312.50" y2="288.86" stroke="#1a1a1a" stroke-width="0.9"/>
<line x1="311.00" y1="282.85" x2="312.50" y2="282.85" stroke="#1a1a1a" stroke-width="0.9"/>
<line x1="309.90" y1="276.84" x2="312.50" y2="276.84" stroke="#1a1a1a" stroke-width="1"/>
<text x="306.60" y="279.64" font-size="7.8" text-anchor="end">80</text>
<line x1="311.00" y1="270.83" x2="312.50" y2="270.83" stroke="#1a1a1a" stroke-width="0.9"/>
<line x1="311.00" y1="264.82" x2="312.50" y2="264.82" stroke="#1a1a1a" stroke-width="0.9"/>
<line x1="311.00" y1="258.81" x2="312.50" y2="258.81" stroke="#1a1a1a" stroke-width="0.9"/>
<line x1="309.90" y1="252.80" x2="312.50" y2="252.80" stroke="#1a1a1a" stroke-width="1"/>
<text x="306.60" y="255.60" font-size="7.8" text-anchor="end">100</text>
<line x1="312.50" y1="373.00" x2="312.50" y2="376.00" stroke="#1a1a1a" stroke-width="1"/>
<text x="312.50" y="385.90" font-size="7.8" text-anchor="middle">0</text>
<line x1="337.10" y1="373.00" x2="337.10" y2="376.00" stroke="#1a1a1a" stroke-width="1"/>
<text x="337.80" y="385.90" font-size="7.8" text-anchor="middle">250</text>
<line x1="361.70" y1="373.00" x2="361.70" y2="376.00" stroke="#1a1a1a" stroke-width="1"/>
<text x="362.40" y="385.90" font-size="7.8" text-anchor="middle">500</text>
<line x1="386.30" y1="373.00" x2="386.30" y2="376.00" stroke="#1a1a1a" stroke-width="1"/>
<text x="387.00" y="385.90" font-size="7.8" text-anchor="middle">750</text>
<line x1="410.90" y1="373.00" x2="410.90" y2="376.00" stroke="#1a1a1a" stroke-width="1"/>
<text x="411.60" y="385.90" font-size="7.8" text-anchor="middle">1000</text>
<line x1="435.50" y1="373.00" x2="435.50" y2="376.00" stroke="#1a1a1a" stroke-width="1"/>
<text x="436.20" y="385.90" font-size="7.8" text-anchor="middle">1250</text>
<line x1="460.10" y1="373.00" x2="460.10" y2="376.00" stroke="#1a1a1a" stroke-width="1"/>
<text x="460.80" y="385.90" font-size="7.8" text-anchor="middle">1500</text>
<line x1="484.70" y1="373.00" x2="484.70" y2="376.00" stroke="#1a1a1a" stroke-width="1"/>
<text x="485.40" y="385.90" font-size="7.8" text-anchor="middle">1750</text>
<line x1="318.65" y1="373.00" x2="318.65" y2="374.60" stroke="#1a1a1a" stroke-width="0.9"/>
<line x1="324.80" y1="373.00" x2="324.80" y2="374.60" stroke="#1a1a1a" stroke-width="0.9"/>
<line x1="330.95" y1="373.00" x2="330.95" y2="374.60" stroke="#1a1a1a" stroke-width="0.9"/>
<line x1="343.25" y1="373.00" x2="343.25" y2="374.60" stroke="#1a1a1a" stroke-width="0.9"/>
<line x1="349.40" y1="373.00" x2="349.40" y2="374.60" stroke="#1a1a1a" stroke-width="0.9"/>
<line x1="355.55" y1="373.00" x2="355.55" y2="374.60" stroke="#1a1a1a" stroke-width="0.9"/>
<line x1="367.85" y1="373.00" x2="367.85" y2="374.60" stroke="#1a1a1a" stroke-width="0.9"/>
<line x1="374.00" y1="373.00" x2="374.00" y2="374.60" stroke="#1a1a1a" stroke-width="0.9"/>
<line x1="380.15" y1="373.00" x2="380.15" y2="374.60" stroke="#1a1a1a" stroke-width="0.9"/>
<line x1="392.45" y1="373.00" x2="392.45" y2="374.60" stroke="#1a1a1a" stroke-width="0.9"/>
<line x1="398.60" y1="373.00" x2="398.60" y2="374.60" stroke="#1a1a1a" stroke-width="0.9"/>
<line x1="404.75" y1="373.00" x2="404.75" y2="374.60" stroke="#1a1a1a" stroke-width="0.9"/>
<line x1="417.05" y1="373.00" x2="417.05" y2="374.60" stroke="#1a1a1a" stroke-width="0.9"/>
<line x1="423.20" y1="373.00" x2="423.20" y2="374.60" stroke="#1a1a1a" stroke-width="0.9"/>
<line x1="429.35" y1="373.00" x2="429.35" y2="374.60" stroke="#1a1a1a" stroke-width="0.9"/>
<line x1="441.65" y1="373.00" x2="441.65" y2="374.60" stroke="#1a1a1a" stroke-width="0.9"/>
<line x1="447.80" y1="373.00" x2="447.80" y2="374.60" stroke="#1a1a1a" stroke-width="0.9"/>
<line x1="453.95" y1="373.00" x2="453.95" y2="374.60" stroke="#1a1a1a" stroke-width="0.9"/>
<line x1="466.25" y1="373.00" x2="466.25" y2="374.60" stroke="#1a1a1a" stroke-width="0.9"/>
<line x1="472.40" y1="373.00" x2="472.40" y2="374.60" stroke="#1a1a1a" stroke-width="0.9"/>
<line x1="478.55" y1="373.00" x2="478.55" y2="374.60" stroke="#1a1a1a" stroke-width="0.9"/>
<line x1="490.85" y1="373.00" x2="490.85" y2="374.60" stroke="#1a1a1a" stroke-width="0.9"/>
<text x="0" y="0" font-size="10" textLength="66.0" lengthAdjust="spacingAndGlyphs" text-anchor="middle" transform="translate(287.30,311.50) rotate(-90)">Probability of event</text>
<text x="394.80" y="399.50" font-size="10" textLength="16.00" lengthAdjust="spacingAndGlyphs">Days</text>
<polyline points="312.60,252.60 312.70,258.00 316.00,261.20 319.20,271.40 321.10,277.90 322.50,280.20 331.90,284.80 332.00,291.50 492.50,291.50" fill="none" stroke="#b22248" stroke-width="1.1" stroke-linejoin="miter"/>
<polyline points="312.60,252.60 312.70,258.00 313.70,275.00 315.20,285.00 316.40,310.40 318.70,312.20 321.60,319.70 322.10,326.00 337.50,330.50 492.50,330.50" fill="none" stroke="#2b5573" stroke-width="1.1" stroke-linejoin="miter"/>
<line x1="332.50" y1="288.50" x2="332.50" y2="294.50" stroke="#b22248" stroke-width="1"/>
<line x1="347.50" y1="288.50" x2="347.50" y2="294.50" stroke="#b22248" stroke-width="1"/>
<line x1="348.50" y1="288.50" x2="348.50" y2="294.50" stroke="#b22248" stroke-width="1"/>
<line x1="349.50" y1="288.50" x2="349.50" y2="294.50" stroke="#b22248" stroke-width="1"/>
<line x1="352.50" y1="288.50" x2="352.50" y2="294.50" stroke="#b22248" stroke-width="1"/>
<line x1="389.50" y1="288.50" x2="389.50" y2="294.50" stroke="#b22248" stroke-width="1"/>
<line x1="420.50" y1="288.50" x2="420.50" y2="294.50" stroke="#b22248" stroke-width="1"/>
<line x1="439.50" y1="288.50" x2="439.50" y2="294.50" stroke="#b22248" stroke-width="1"/>
<line x1="451.50" y1="288.50" x2="451.50" y2="294.50" stroke="#b22248" stroke-width="1"/>
<line x1="475.50" y1="288.50" x2="475.50" y2="294.50" stroke="#b22248" stroke-width="1"/>
<line x1="492.50" y1="288.50" x2="492.50" y2="294.50" stroke="#b22248" stroke-width="1"/>
<line x1="337.50" y1="327.50" x2="337.50" y2="333.50" stroke="#2b5573" stroke-width="1"/>
<line x1="347.50" y1="327.50" x2="347.50" y2="333.50" stroke="#2b5573" stroke-width="1"/>
<line x1="417.50" y1="327.50" x2="417.50" y2="333.50" stroke="#2b5573" stroke-width="1"/>
<line x1="452.50" y1="327.50" x2="452.50" y2="333.50" stroke="#2b5573" stroke-width="1"/>
<line x1="457.50" y1="327.50" x2="457.50" y2="333.50" stroke="#2b5573" stroke-width="1"/>
<line x1="492.50" y1="327.50" x2="492.50" y2="333.50" stroke="#2b5573" stroke-width="1"/>
<line x1="316.00" y1="258.20" x2="316.00" y2="264.20" stroke="#b22248" stroke-width="1"/>
<line x1="322.50" y1="277.00" x2="322.50" y2="283.00" stroke="#b22248" stroke-width="1"/>
<line x1="318.70" y1="309.20" x2="318.70" y2="315.20" stroke="#2b5573" stroke-width="1"/>
<line x1="321.60" y1="316.00" x2="321.60" y2="322.00" stroke="#2b5573" stroke-width="1"/>
<text x="460.70" y="284.80" font-size="8.4" textLength="29.00" lengthAdjust="spacingAndGlyphs">IFS 68%</text>
<text x="460.70" y="342.00" font-size="8.4" textLength="29.00" lengthAdjust="spacingAndGlyphs">IFS 36%</text>
<polyline points="495.00,291.50 500.80,291.50 500.80,330.50 495.00,330.50" fill="none" stroke="#333" stroke-width="1"/>
<text x="504.10" y="314.40" font-size="8">*</text>
<line x1="339.80" y1="409.50" x2="352.50" y2="409.50" stroke="#2b5573" stroke-width="1.2"/>
<line x1="346.15" y1="406.10" x2="346.15" y2="412.90" stroke="#2b5573" stroke-width="1.2"/>
<text x="356.10" y="412.00" font-size="7.8" textLength="109.70" lengthAdjust="spacingAndGlyphs">No Emapalumab (Events: 18/28)</text>
<line x1="339.80" y1="421.50" x2="352.50" y2="421.50" stroke="#b22248" stroke-width="1.2"/>
<line x1="346.15" y1="418.10" x2="346.15" y2="424.90" stroke="#b22248" stroke-width="1.2"/>
<text x="356.10" y="423.80" font-size="7.8" textLength="91.90" lengthAdjust="spacingAndGlyphs">Emapalumab (Events: 7/22)</text>
</svg>
</body></html>
